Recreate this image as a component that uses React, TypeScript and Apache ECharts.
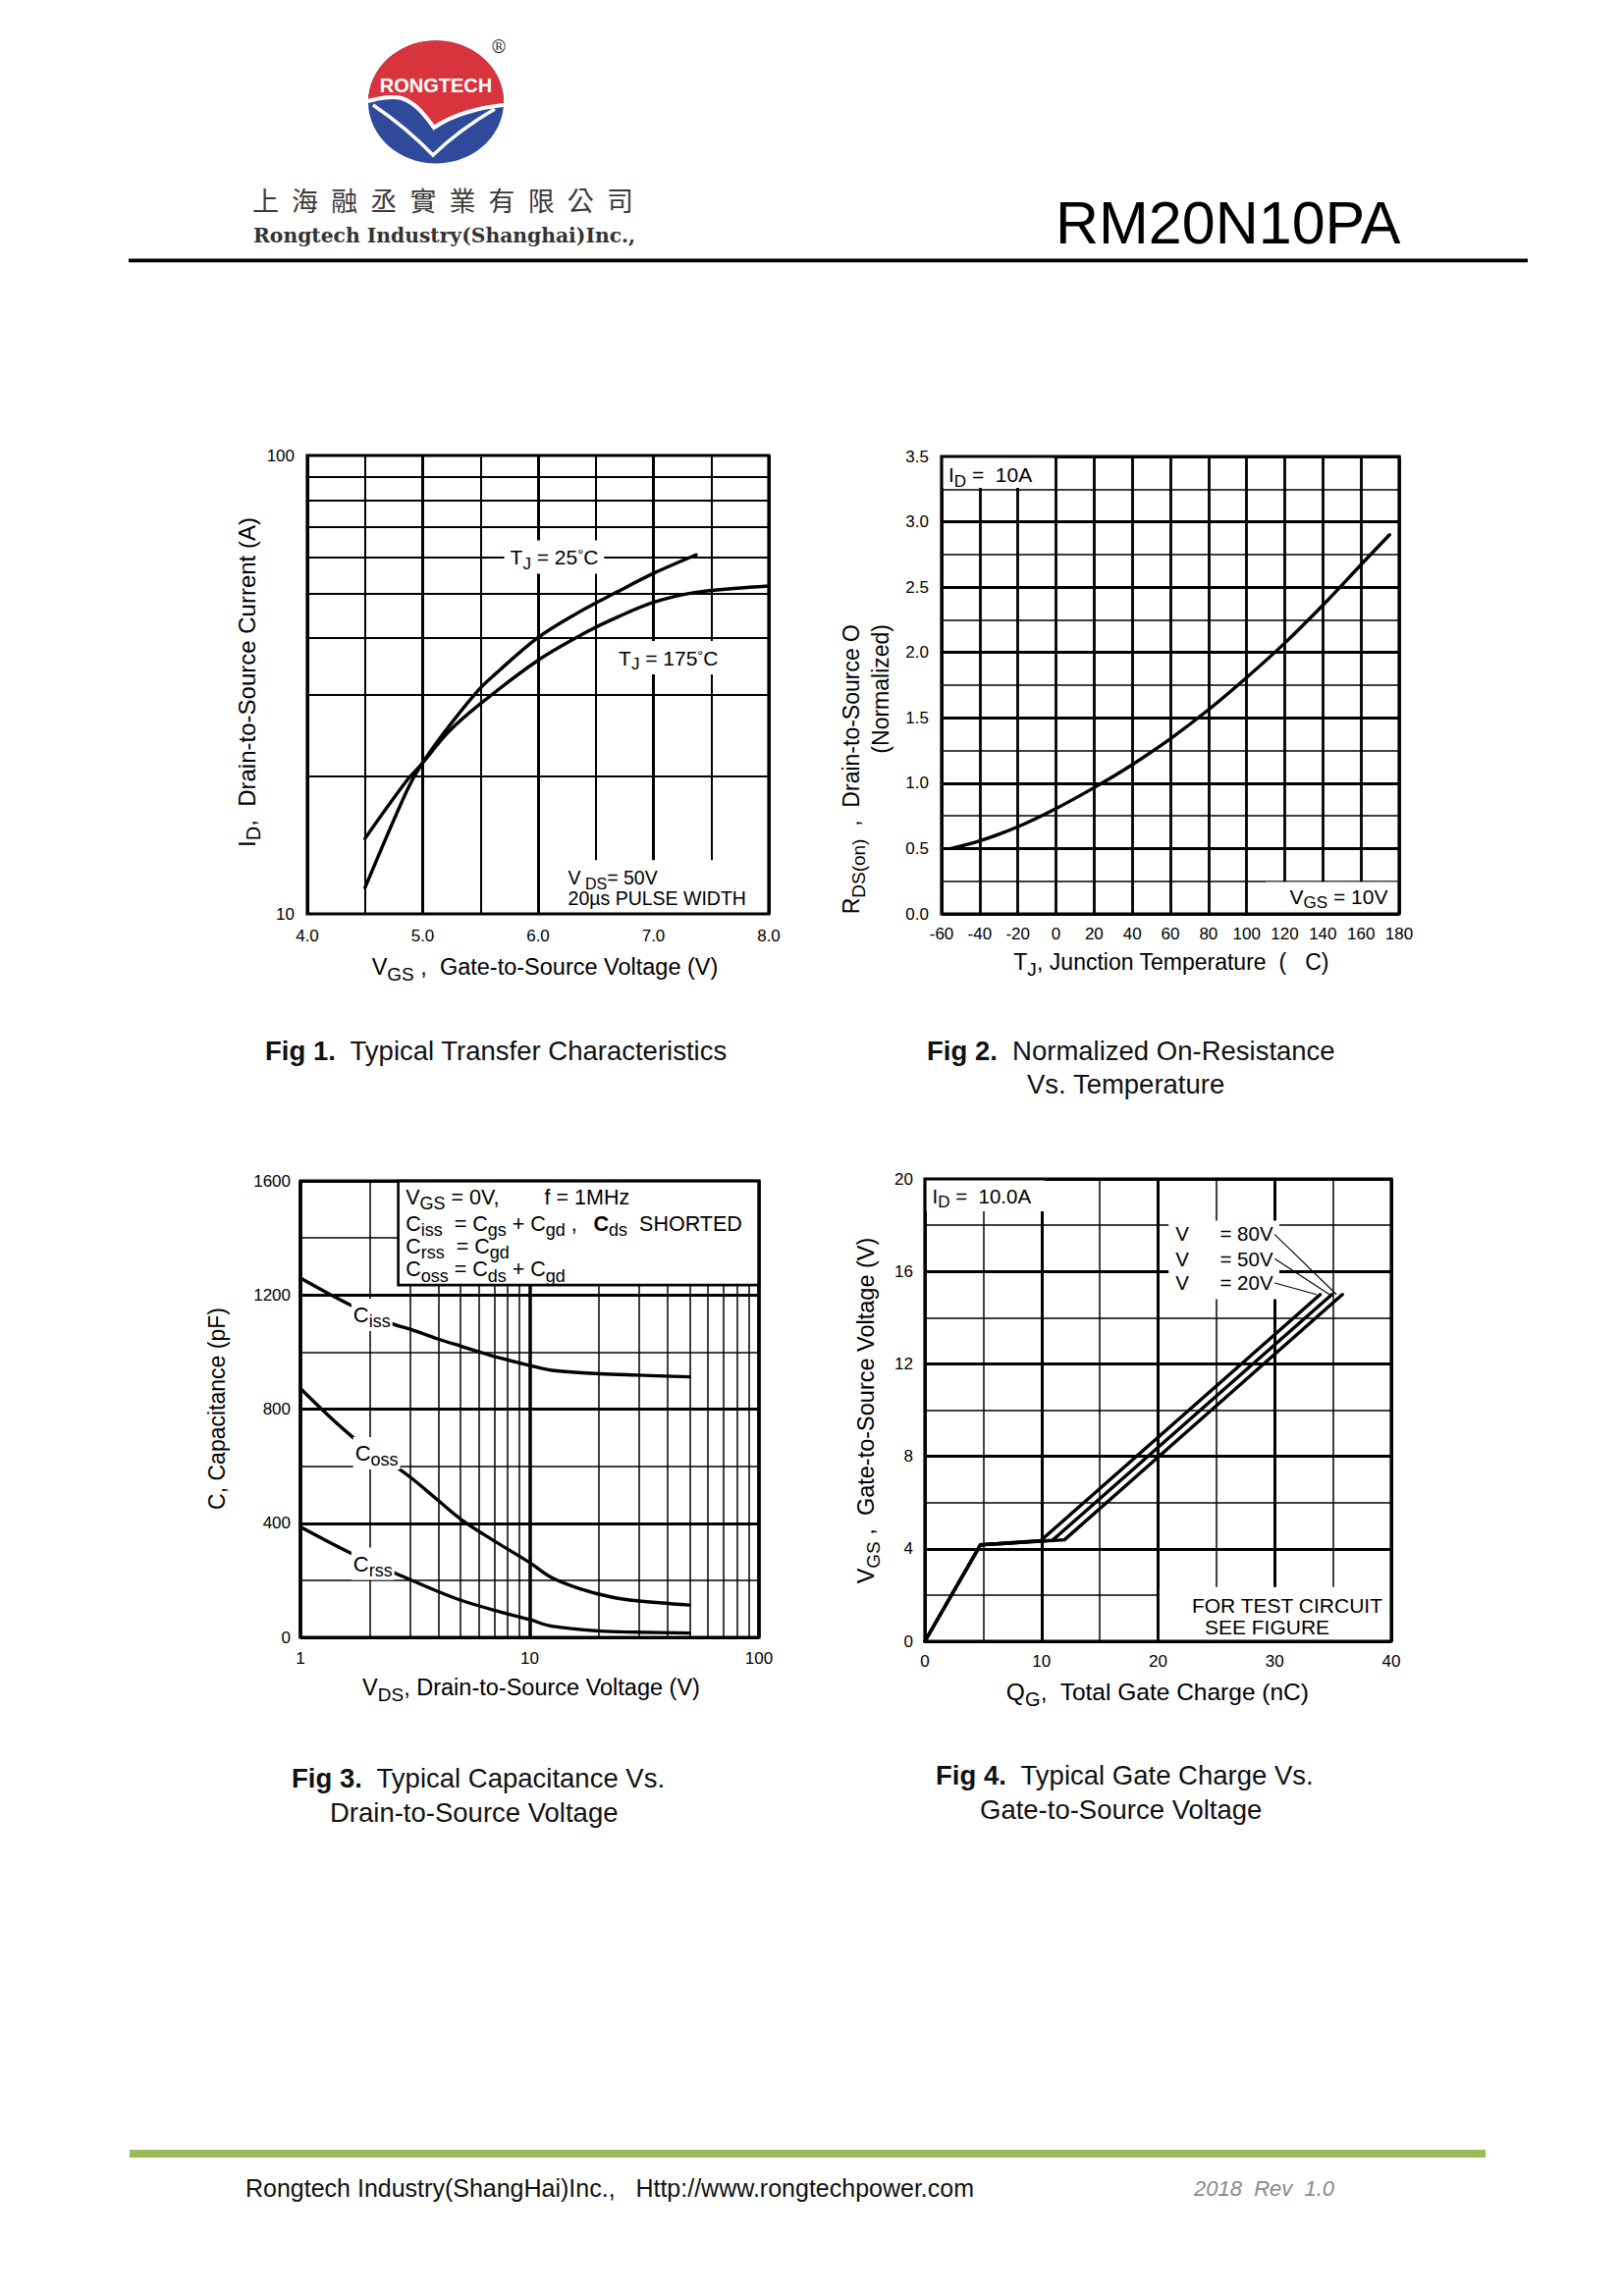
import React, { useEffect, useRef } from 'react';
import * as echarts from 'echarts';

const SANS = "'Liberation Sans', Arial, Helvetica, sans-serif";
const SERIF = "'DejaVu Serif', 'Liberation Serif', serif";
const CJK = "'Noto Sans CJK TC', 'Noto Sans CJK SC', sans-serif";
const INK = '#000';

// ---------------- Fig 1 : transfer characteristics ----------------
const fig1Vgs25 = [4.5, 4.86, 4.99, 5.22, 5.49, 5.62, 5.99, 6.34, 6.68, 7.0, 7.37];
const fig1Id25 = [11.4, 18.5, 21.2, 25.5, 30.9, 33.2, 39.9, 45.3, 50.3, 55.3, 60.7];
const fig1Vgs175 = [4.5, 4.86, 4.99, 5.22, 5.49, 5.99, 6.43, 6.68, 7.0, 7.37, 8.0];
const fig1Id175 = [14.6, 19.5, 21.2, 24.9, 28.6, 35.6, 41.3, 44.3, 47.8, 50.3, 51.9];
const fig1MinorY = [20, 30, 40, 50, 60, 70, 80, 90];

// ---------------- Fig 2 : normalized on-resistance ----------------
const fig2Tj = [-55, -40, -20, 0, 20, 40, 60, 80, 100, 120, 140, 160, 175];
const fig2Rds = [0.5, 0.558, 0.667, 0.806, 0.966, 1.142, 1.34, 1.562, 1.808, 2.072, 2.362, 2.672, 2.901];

// ---------------- Fig 3 : capacitance ----------------
const fig3VdsCiss = [1, 1.63, 2.52, 3.04, 3.97, 5.05, 7.07, 10, 12.5, 20.2, 29.4, 49.7];
const fig3Ciss = [1259, 1167, 1099, 1079, 1046, 1020, 984, 953, 936, 924, 919, 913];
const fig3VdsCoss = [1, 1.7, 2.57, 3.04, 4.0, 5.05, 7.07, 10, 12.5, 16.6, 22.5, 29.4, 49.7];
const fig3Coss = [872, 700, 602, 559, 479, 412, 336, 262, 209, 170, 142, 128, 113];
const fig3VdsCrss = [1, 1.66, 2.88, 4.0, 5.05, 7.07, 10, 12.5, 20.2, 29.4, 49.7];
const fig3Crss = [387, 295, 209, 160, 129, 94, 62, 39, 22, 18, 15];
const fig3MinorX = [2, 3, 4, 5, 6, 7, 8, 9, 20, 30, 40, 50, 60, 70, 80, 90];

// ---------------- Fig 4 : gate charge ----------------
const fig4Qg20 = [0, 4.76, 9.95, 33.9];
const fig4Vgs20 = [0, 4.17, 4.36, 15.0];
const fig4Qg50 = [0, 4.76, 10.95, 34.9];
const fig4Vgs50 = [0, 4.17, 4.37, 15.0];
const fig4Qg80 = [0, 4.76, 11.97, 35.8];
const fig4Vgs80 = [0, 4.17, 4.39, 15.0];
const fig4LeadQ80 = [30.0, 35.3];
const fig4LeadV80 = [17.6, 15.0];
const fig4LeadQ50 = [30.0, 34.7];
const fig4LeadV50 = [16.55, 15.0];
const fig4LeadQ20 = [30.0, 33.6];
const fig4LeadV20 = [15.5, 15.0];

const COMPANY_CN = '上海融丞實業有限公司';

// ---------------- layout ----------------
const G1 = { left: 313, top: 464, width: 470, height: 467 };
const G2 = { left: 959, top: 465, width: 466, height: 466 };
const G3 = { left: 306, top: 1203, width: 467, height: 465 };
const G4 = { left: 942, top: 1201, width: 475, height: 471 };

const p1 = (v: number, i: number) => [G1.left + ((v - 4) / 4) * G1.width, G1.top + G1.height - Math.log10(i / 10) * G1.height];
const p2 = (t: number, r: number) => [G2.left + ((t + 60) / 240) * G2.width, G2.top + G2.height - (r / 3.5) * G2.height];
const p3 = (v: number, c: number) => [G3.left + (Math.log10(v) / 2) * G3.width, G3.top + G3.height - (c / 1600) * G3.height];
const p4 = (q: number, v: number) => [G4.left + (q / 40) * G4.width, G4.top + G4.height - (v / 20) * G4.height];

const LOGO_RED = 'M -69 -1 A 69 62.5 0 1 1 68.9 3 C 47 5 18 12 -2 26 C -12 12 -22 0 -35 -4 C -48 -7 -60 -3 -69 -1 Z';
const LOGO_WAVE = 'M 68.9 3 C 47 5 18 12 -2 26 C -12 12 -22 0 -35 -4 C -48 -7 -60 -3 -69 -1';
const LOGO_V = 'M -64 3 Q -30 26 -3 54 Q 24 28 60 7';
echarts.graphic.registerShape('rtLogoRed', echarts.graphic.extendPath(LOGO_RED, {}));
echarts.graphic.registerShape('rtLogoWave', echarts.graphic.extendPath(LOGO_WAVE, {}));
echarts.graphic.registerShape('rtLogoV', echarts.graphic.extendPath(LOGO_V, {}));

const zip = (xs: number[], ys: number[]) => xs.map((x, i) => [x, ys[i]]);

function rich(fs: number, color: string, family: string) {
  return {
    n: { fontSize: fs, fontFamily: family, fill: color, color },
    b: { fontSize: fs, fontFamily: family, fontWeight: 'bold', fill: color, color },
    s: { fontSize: Math.round(fs * 0.82), fontFamily: family, fill: color, color, padding: [Math.round(fs * 0.6), 0, 0, 0] },
    u: { fontSize: Math.round(fs * 0.72), fontFamily: family, fill: color, color, padding: [0, 0, Math.round(fs * 0.3), 0] },
  };
}

function T(x: number, y: number, text: string, fs: number, o: any = {}) {
  const align = o.align || 'left';
  const va = o.va || 'middle';
  const color = o.color || INK;
  const family = o.family || SANS;
  return {
    type: 'text',
    x,
    y,
    z: o.z ?? 80,
    rotation: o.rot || 0,
    scaleX: o.sx ?? 1,
    scaleY: o.sy ?? 1,
    silent: true,
    style: {
      text,
      fill: color,
      fontSize: fs,
      fontFamily: family,
      fontWeight: o.weight || 'normal',
      fontStyle: o.italic ? 'italic' : 'normal',
      align,
      textAlign: align,
      verticalAlign: va,
      textVerticalAlign: va,
      rich: rich(fs, color, family),
      backgroundColor: o.bg,
      padding: o.pad,
    },
  };
}

function R(x: number, y: number, w: number, h: number, o: any = {}) {
  const style: any = { fill: o.fill ?? '#fff' };
  if (o.stroke) {
    style.stroke = o.stroke;
    style.lineWidth = o.lw ?? 1;
  }
  return { type: 'rect', z: o.z ?? 50, silent: true, shape: { x, y, width: w, height: h }, style };
}

function boxFrom(a: number[], b: number[], o: any = {}) {
  const x = Math.min(a[0], b[0]);
  const y = Math.min(a[1], b[1]);
  return R(x, y, Math.abs(b[0] - a[0]), Math.abs(b[1] - a[1]), o);
}

function frame(g: any) {
  return R(g.left, g.top, g.width, g.height, { fill: 'none', stroke: INK, lw: 3.2, z: 90 });
}

const lbl = (margin: number, extra: any = {}) => ({
  show: true,
  color: INK,
  fontSize: 17,
  fontFamily: SANS,
  margin,
  showMinLabel: true,
  showMaxLabel: true,
  ...extra,
});
const split = (w: number) => ({ show: true, lineStyle: { color: INK, width: w, type: 'solid' } });
const noLine = { axisLine: { show: false }, axisTick: { show: false } };

function curve(name: string, idx: number, data: number[][], extra: any = {}) {
  return {
    type: 'line',
    name,
    xAxisIndex: idx,
    yAxisIndex: idx,
    data,
    symbol: 'none',
    showSymbol: false,
    silent: true,
    z: 3,
    lineStyle: { color: INK, width: 3.4, join: 'round', cap: 'round' },
    smooth: 0.35,
    ...extra,
  };
}

function minorMarks(key: string, values: number[], width: number) {
  return {
    silent: true,
    symbol: 'none',
    label: { show: false },
    lineStyle: { color: INK, width, type: 'solid' },
    emphasis: { disabled: true },
    data: values.map((v) => ({ [key]: v })),
  };
}

function buildOption() {
  const graphics: any[] = [];

  // ---- header ----
  graphics.push({ type: 'ellipse', x: 0, y: 0, z: 5, silent: true, shape: { cx: 444, cy: 104, rx: 69, ry: 62.5 }, style: { fill: '#2F4A9B' } });
  graphics.push({ type: 'rtLogoRed', x: 444, y: 104, z: 6, silent: true, style: { fill: '#D8343E' } });
  graphics.push({ type: 'rtLogoWave', x: 444, y: 104, z: 7, silent: true, style: { fill: 'none', stroke: '#fff', lineWidth: 4 } });
  graphics.push({ type: 'rtLogoV', x: 444, y: 104, z: 7, silent: true, style: { fill: 'none', stroke: '#fff', lineWidth: 3.5 } });
  graphics.push(T(444, 87, 'RONGTECH', 20, { align: 'center', weight: 'bold', color: '#fff', sx: 1.0, z: 8 }));
  graphics.push(T(508, 47, '®', 18, { align: 'center', family: SERIF, color: '#333' }));
  COMPANY_CN.split('').forEach((ch, i) => {
    graphics.push(T(270.5 + i * 40.1, 203, ch, 27, { align: 'center', family: CJK, color: '#3a3a3a' }));
  });
  graphics.push(T(258, 240, 'Rongtech Industry(Shanghai)Inc.,', 20.3, { family: SERIF, weight: 'bold', color: '#333' }));
  graphics.push(T(1075, 227, 'RM20N10PA', 61, { color: INK }));
  graphics.push(R(131, 263.5, 1425, 3.8, { fill: INK, z: 10 }));

  // ---- fig 1 annotations ----
  {
    const a = p1(6.2, 13.1);
    const b = p1(8, 10);
    graphics.push(boxFrom(a, b));
    const t25 = p1(6.14, 60);
    graphics.push(T(t25[0], t25[1], '{n|T}{s|J}{n| = 25}{u|°}{n|C}', 21, { align: 'center', bg: '#fff', pad: [2, 6] }));
    const t175 = p1(7.13, 36.2);
    graphics.push(T(t175[0], t175[1], '{n|T}{s|J}{n| = 175}{u|°}{n|C}', 21, { align: 'center', bg: '#fff', pad: [2, 6] }));
    const v1 = p1(6.26, 12.0);
    graphics.push(T(v1[0], v1[1], '{n|V}{s| DS}{n|= 50V}', 19.5));
    const v2 = p1(6.26, 10.82);
    graphics.push(T(v2[0], v2[1], '20µs PULSE WIDTH', 19.5));
    graphics.push(T(555, 985, '{n|V}{s|GS}{n| ,  Gate-to-Source Voltage (V)}', 23.5, { align: 'center' }));
    graphics.push(T(251, 695, '{n|I}{s|D}{n|,  Drain-to-Source Current (A)}', 24, { align: 'center', rot: Math.PI / 2 }));
    graphics.push(frame(G1));
  }

  // ---- fig 2 annotations ----
  {
    graphics.push(boxFrom(p2(-60, 3.5), p2(-1, 3.26)));
    graphics.push(boxFrom(p2(110, 0.245), p2(180, 0)));
    const id = p2(-56.4, 3.36);
    graphics.push(T(id[0], id[1], '{n|I}{s|D}{n| =  10A}', 21));
    const vg = p2(122.6, 0.134);
    graphics.push(T(vg[0], vg[1], '{n|V}{s|GS}{n| = 10V}', 21));
    graphics.push(T(1193, 980, '{n|T}{s|J}{n|, Junction Temperature  (   C)}', 23, { align: 'center' }));
    graphics.push(T(867, 636, '{n|R}{s|DS(on)}{n|  ,  Drain-to-Source O}', 23, { align: 'right', rot: Math.PI / 2 }));
    graphics.push(T(897, 636, '(Normalized)', 23, { align: 'right', rot: Math.PI / 2 }));
    graphics.push(frame(G2));
  }

  // ---- fig 3 annotations ----
  {
    const a = p3(2.67, 1600);
    const b = p3(100, 1235);
    graphics.push(boxFrom(a, b, { stroke: INK, lw: 2.6, z: 55 }));
    const lx = p3(2.88, 0)[0];
    const LF = 21.5;
    graphics.push(T(lx, p3(1, 1542)[1], '{n|V}{s|GS}{n| = 0V,}', LF));
    graphics.push(T(p3(11.6, 0)[0], p3(1, 1542)[1], 'f = 1MHz', LF));
    graphics.push(T(lx, p3(1, 1450)[1], '{n|C}{s|iss}{n|  = C}{s|gs}{n| + C}{s|gd}{n| ,}', LF));
    graphics.push(T(p3(19.0, 0)[0], p3(1, 1450)[1], '{b|C}{s|ds}{n|  SHORTED}', LF));
    graphics.push(T(lx, p3(1, 1370)[1], '{n|C}{s|rss}{n|  = C}{s|gd}', LF));
    graphics.push(T(lx, p3(1, 1290)[1], '{n|C}{s|oss}{n| = C}{s|ds}{n| + C}{s|gd}', LF));
    const ci = p3(2.05, 1130);
    graphics.push(T(ci[0], ci[1], '{n|C}{s|iss}', 22, { align: 'center', bg: '#fff', pad: [1, 2] }));
    const co = p3(2.15, 645);
    graphics.push(T(co[0], co[1], '{n|C}{s|oss}', 22, { align: 'center', bg: '#fff', pad: [1, 2] }));
    const cr = p3(2.07, 258);
    graphics.push(T(cr[0], cr[1], '{n|C}{s|rss}', 22, { align: 'center', bg: '#fff', pad: [1, 2] }));
    graphics.push(T(541, 1719, '{n|V}{s|DS}{n|, Drain-to-Source Voltage (V)}', 23.5, { align: 'center' }));
    graphics.push(T(221, 1435, 'C, Capacitance (pF)', 23, { align: 'center', rot: Math.PI / 2 }));
    graphics.push(frame(G3));
  }

  // ---- fig 4 annotations ----
  {
    graphics.push(boxFrom(p4(0, 20), p4(10.3, 18.6)));
    graphics.push(boxFrom(p4(20.9, 18.2), p4(30.4, 14.8)));
    graphics.push(boxFrom(p4(20.12, 2.35), p4(40, 0)));
    const id = p4(0.63, 19.24);
    graphics.push(T(id[0], id[1], '{n|I}{s|D}{n| =  10.0A}', 20.5));
    const vx = p4(21.5, 0)[0];
    const ex = p4(25.3, 0)[0];
    const rows = [
      [17.65, '= 80V'],
      [16.55, '= 50V'],
      [15.53, '= 20V'],
    ];
    rows.forEach(([v, s]) => {
      const y = p4(0, v as number)[1];
      graphics.push(T(vx, y, 'V', 20.5));
      graphics.push(T(ex, y, s as string, 20.5));
    });
    const f1 = p4(31.07, 1.55);
    graphics.push(T(f1[0], f1[1], 'FOR TEST CIRCUIT', 21, { align: 'center' }));
    const f2 = p4(29.35, 0.61);
    graphics.push(T(f2[0], f2[1], 'SEE FIGURE', 21, { align: 'center' }));
    graphics.push(T(1179, 1723, '{n|Q}{s|G}{n|,  Total Gate Charge (nC)}', 24.5, { align: 'center' }));
    graphics.push(T(882, 1437, '{n|V}{s|GS}{n| ,  Gate-to-Source Voltage (V)}', 23.5, { align: 'center', rot: Math.PI / 2 }));
    graphics.push(frame(G4));
  }

  // ---- captions ----
  const CAP = 27.5;
  const capColor = '#111';
  graphics.push(T(270, 1070, '{b|Fig 1.}{n|  Typical Transfer Characteristics}', CAP, { color: capColor }));
  graphics.push(T(944, 1070, '{b|Fig 2.}{n|  Normalized On-Resistance}', CAP, { color: capColor }));
  graphics.push(T(1046, 1104, 'Vs. Temperature', CAP, { color: capColor }));
  graphics.push(T(297, 1811, '{b|Fig 3.}{n|  Typical Capacitance Vs.}', CAP, { color: capColor }));
  graphics.push(T(336, 1846, 'Drain-to-Source Voltage', CAP, { color: capColor }));
  graphics.push(T(953, 1808, '{b|Fig 4.}{n|  Typical Gate Charge Vs.}', CAP, { color: capColor }));
  graphics.push(T(998, 1843, 'Gate-to-Source Voltage', CAP, { color: capColor }));

  // ---- footer ----
  graphics.push(R(132, 2190, 1381, 8, { fill: '#9BBB59', z: 10 }));
  graphics.push(T(250, 2229, 'Rongtech Industry(ShangHai)Inc.,   Http://www.rongtechpower.com', 25, { color: '#111' }));
  graphics.push(T(1216, 2229, '2018  Rev  1.0', 22, { color: '#8a8a8a', italic: true }));

  return {
    animation: false,
    backgroundColor: '#fff',
    grid: [
      { ...G1, containLabel: false },
      { ...G2, containLabel: false },
      { ...G3, containLabel: false },
      { ...G4, containLabel: false },
    ],
    xAxis: [
      {
        gridIndex: 0, type: 'value', min: 4, max: 8, interval: 1, ...noLine,
        axisLabel: lbl(14, { formatter: (v: number) => v.toFixed(1) }),
        splitLine: split(3), minorTick: { show: false, splitNumber: 2 }, minorSplitLine: split(2),
      },
      {
        gridIndex: 1, type: 'value', min: -60, max: 180, interval: 20, ...noLine,
        axisLabel: lbl(12), splitLine: split(2.8),
      },
      {
        gridIndex: 2, type: 'log', logBase: 10, min: 1, max: 100, ...noLine,
        axisLabel: lbl(13, { formatter: (v: number) => String(v) }), splitLine: split(3.5),
      },
      {
        gridIndex: 3, type: 'value', min: 0, max: 40, interval: 10, ...noLine,
        axisLabel: lbl(12), splitLine: split(3), minorTick: { show: false, splitNumber: 2 }, minorSplitLine: split(1.5),
      },
    ],
    yAxis: [
      {
        gridIndex: 0, type: 'log', logBase: 10, min: 10, max: 100, ...noLine,
        axisLabel: lbl(13, { formatter: (v: number) => String(v) }), splitLine: { show: false },
      },
      {
        gridIndex: 1, type: 'value', min: 0, max: 3.5, interval: 0.5, ...noLine,
        axisLabel: lbl(13, { formatter: (v: number) => v.toFixed(1) }),
        splitLine: split(3), minorTick: { show: false, splitNumber: 2 }, minorSplitLine: split(1.5),
      },
      {
        gridIndex: 2, type: 'value', min: 0, max: 1600, interval: 400, ...noLine,
        axisLabel: lbl(10, { formatter: (v: number) => String(v) }), splitLine: split(3), minorTick: { show: false, splitNumber: 2 }, minorSplitLine: split(1.5),
      },
      {
        gridIndex: 3, type: 'value', min: 0, max: 20, interval: 4, ...noLine,
        axisLabel: lbl(12, { formatter: (v: number) => String(v) }), splitLine: split(3), minorTick: { show: false, splitNumber: 2 }, minorSplitLine: split(1.5),
      },
    ],
    series: [
      curve('TJ=25°C', 0, zip(fig1Vgs25, fig1Id25), { markLine: minorMarks('yAxis', fig1MinorY, 2) }),
      curve('TJ=175°C', 0, zip(fig1Vgs175, fig1Id175)),
      curve('RDS(on)', 1, zip(fig2Tj, fig2Rds)),
      curve('Ciss', 2, zip(fig3VdsCiss, fig3Ciss), { markLine: minorMarks('xAxis', fig3MinorX, 1.5) }),
      curve('Coss', 2, zip(fig3VdsCoss, fig3Coss)),
      curve('Crss', 2, zip(fig3VdsCrss, fig3Crss)),
      curve('VDS=20V', 3, zip(fig4Qg20, fig4Vgs20), { smooth: false }),
      curve('VDS=50V', 3, zip(fig4Qg50, fig4Vgs50), { smooth: false }),
      curve('VDS=80V', 3, zip(fig4Qg80, fig4Vgs80), { smooth: false }),
      curve('lead80', 3, zip(fig4LeadQ80, fig4LeadV80), { smooth: false, z: 95, lineStyle: { color: INK, width: 1.1 } }),
      curve('lead50', 3, zip(fig4LeadQ50, fig4LeadV50), { smooth: false, z: 95, lineStyle: { color: INK, width: 1.1 } }),
      curve('lead20', 3, zip(fig4LeadQ20, fig4LeadV20), { smooth: false, z: 95, lineStyle: { color: INK, width: 1.1 } }),
    ],
    graphic: { elements: graphics },
  };
}

export default function App() {
  const ref = useRef<HTMLDivElement>(null);
  useEffect(() => {
    if (!ref.current) return;
    const chart = echarts.init(ref.current, null, { renderer: 'svg' });
    chart.setOption(buildOption() as any);
    return () => {
      chart.dispose();
    };
  }, []);
  return (
    <div
      ref={ref}
      style={{ position: 'absolute', left: 0, top: 0, width: 1653, height: 2339, background: '#fff' }}
    />
  );
}
